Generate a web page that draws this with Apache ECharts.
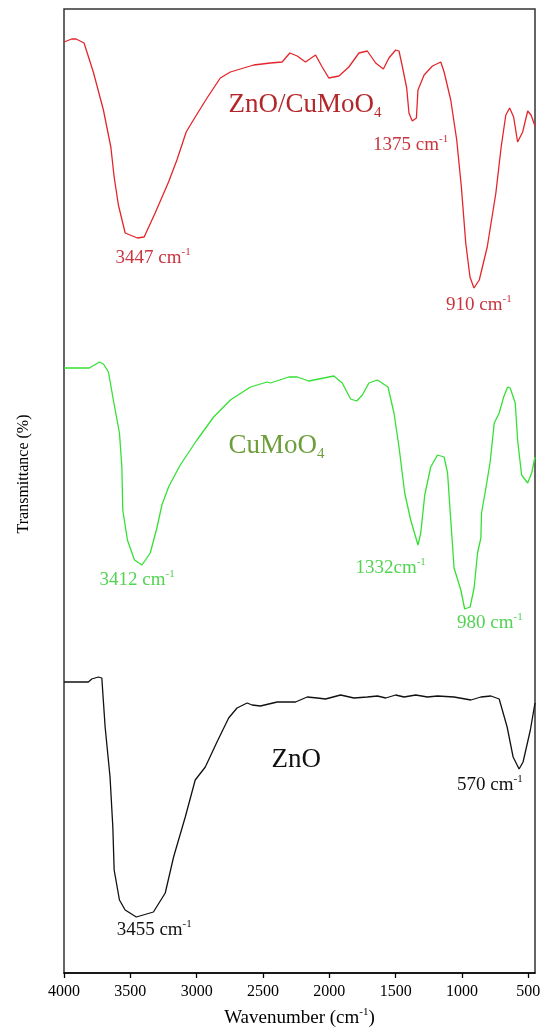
<!DOCTYPE html>
<html>
<head>
<meta charset="utf-8">
<script src="https://cdn.jsdelivr.net/npm/echarts@6/dist/echarts.min.js"></script>
<style>
  html, body { margin: 0; padding: 0; background: #fff; width: 540px; height: 1030px; overflow: hidden; }
  #chart { width: 540px; height: 1030px; }
</style>
</head>
<body>
<div id="chart"></div>
<script>
// FTIR spectra: [wavenumber (cm-1), transmittance (a.u., stacked)]
const wavenumberTicks = [4000, 3500, 3000, 2500, 2000, 1500, 1000, 500];

const znoCuMoO4 = [
  [4000, 93.1], [3942, 93.4], [3909, 93.4], [3849, 93.0], [3779, 90.1], [3703, 86.3],
  [3647, 82.6], [3622, 79.6], [3590, 76.8], [3539, 74.0], [3447, 73.5], [3396, 73.6],
  [3313, 76.0], [3212, 79.1], [3149, 81.3], [3079, 84.1], [3011, 85.6], [2922, 87.5],
  [2822, 89.5], [2746, 90.1], [2570, 90.8], [2444, 91.0], [2356, 91.1], [2298, 92.0],
  [2242, 91.7], [2180, 91.1], [2104, 91.8], [2054, 90.6], [2004, 89.5], [1928, 89.7],
  [1853, 90.6], [1777, 92.0], [1714, 92.2], [1651, 91.0], [1593, 90.4], [1551, 91.5],
  [1500, 92.3], [1475, 92.2], [1449, 90.6], [1417, 88.5], [1400, 86.0], [1375, 85.2],
  [1344, 85.5], [1332, 88.3], [1286, 89.8], [1223, 90.7], [1160, 91.1], [1135, 90.1],
  [1085, 87.3], [1040, 83.3], [1005, 78.6], [972, 73.0], [940, 69.6], [910, 68.5],
  [870, 69.3], [810, 72.6], [745, 78.0], [705, 82.6], [670, 85.8], [641, 86.5],
  [611, 85.6], [581, 83.1], [543, 84.1], [505, 86.2], [480, 85.8], [450, 84.7]
];

const cuMoO4 = [
  [4000, 60.5], [3809, 60.5], [3733, 61.1], [3703, 60.9], [3665, 60.1], [3628, 57.3],
  [3582, 54.0], [3564, 50.6], [3557, 46.3], [3522, 43.3], [3469, 41.3], [3412, 40.8],
  [3350, 42.0], [3300, 44.5], [3262, 46.8], [3212, 48.6], [3124, 50.8], [2998, 53.3],
  [2872, 55.6], [2746, 57.3], [2595, 58.6], [2469, 59.1], [2444, 59.0], [2306, 59.6],
  [2242, 59.6], [2155, 59.2], [2042, 59.5], [1966, 59.7], [1903, 59.0], [1840, 57.4],
  [1794, 57.2], [1751, 57.8], [1702, 59.0], [1638, 59.3], [1558, 58.6], [1513, 56.0],
  [1475, 52.6], [1432, 48.0], [1387, 45.3], [1332, 42.8], [1311, 44.0], [1281, 47.8],
  [1236, 50.6], [1185, 51.8], [1135, 51.6], [1109, 50.0], [1085, 45.3], [1060, 40.5],
  [1009, 38.3], [980, 36.4], [939, 36.6], [909, 38.5], [883, 42.0], [858, 43.5],
  [853, 46.0], [820, 48.5], [788, 51.1], [757, 55.0], [720, 56.0], [686, 57.6],
  [656, 58.6], [637, 58.5], [599, 57.0], [581, 53.3], [551, 49.8], [505, 49.0],
  [475, 50.0], [450, 51.6]
];

const zno = [
  [4000, 29.1], [3816, 29.1], [3791, 29.4], [3741, 29.6], [3715, 29.5], [3690, 24.6],
  [3653, 19.6], [3632, 14.6], [3622, 10.3], [3582, 7.3], [3539, 6.3], [3455, 5.6],
  [3326, 6.1], [3237, 8.0], [3174, 11.6], [3086, 15.6], [3011, 19.3], [2935, 20.6],
  [2847, 23.1], [2759, 25.5], [2696, 26.5], [2620, 27.0], [2582, 26.8], [2520, 26.7],
  [2393, 27.1], [2255, 27.1], [2167, 27.6], [2091, 27.5], [2029, 27.4], [1915, 27.8],
  [1815, 27.5], [1714, 27.6], [1638, 27.7], [1575, 27.5], [1500, 27.8], [1437, 27.6],
  [1349, 27.8], [1261, 27.6], [1185, 27.7], [1060, 27.6], [933, 27.3], [858, 27.6],
  [782, 27.7], [720, 27.4], [660, 24.6], [615, 21.6], [570, 20.4], [540, 21.1],
  [485, 24.3], [450, 27.0]
];

// Sample names and peak annotations, anchored in data coordinates
const sampleNames = [
  { name: 'ZnO/CuMoO', sub: '4', at: [2761, 86.8], tone: 'red' },
  { name: 'CuMoO', sub: '4', at: [2761, 52.7], tone: 'green' },
  { name: 'ZnO', sub: '', at: [2436, 21.3], tone: 'black' }
];

const peakNotes = [
  { text: '3447 cm', at: [3328, 71.5], tone: 'red' },
  { text: '1375 cm', at: [1387, 82.8], tone: 'red' },
  { text: '910 cm', at: [873, 66.8], tone: 'red' },
  { text: '3412 cm', at: [3449, 39.3], tone: 'green' },
  { text: '1332cm', at: [1538, 40.5], tone: 'green' },
  { text: '980 cm', at: [790, 35.0], tone: 'green' },
  { text: '3455 cm', at: [3320, 4.3], tone: 'black' },
  { text: '570 cm', at: [790, 18.8], tone: 'black' }
];

const SERIF = 'Liberation Serif';
const lineColors = { red: '#e3262b', green: '#35e035', black: '#111111' };
const nameColors = { red: '#b3272b', green: '#6c9e3a', black: '#111111' };
const noteColors = { red: '#c9343f', green: '#52d452', black: '#111111' };

const chart = echarts.init(document.getElementById('chart'), null, {
  renderer: 'canvas', width: 540, height: 1030
});

function spectrum(name, data, tone) {
  return {
    name: name,
    type: 'line',
    data: data,
    showSymbol: false,
    symbol: 'none',
    smooth: false,
    lineStyle: { color: lineColors[tone], width: 1.3 },
    z: 3
  };
}

chart.setOption({
  animation: false,
  backgroundColor: '#ffffff',
  grid: {
    left: 64, right: 5, top: 9, bottom: 57,
    containLabel: false,
    outerBoundsMode: 'none',
    show: true, borderColor: '#333', borderWidth: 1.5, backgroundColor: 'transparent'
  },
  xAxis: {
    type: 'value',
    inverse: true,
    min: 450,
    max: 4000,
    splitLine: { show: false },
    axisLine: { show: true, onZero: false, lineStyle: { color: '#000', width: 1.5 } },
    axisTick: {
      show: true, inside: false, length: 5,
      customValues: wavenumberTicks,
      lineStyle: { color: '#000', width: 1.3 }
    },
    axisLabel: {
      customValues: wavenumberTicks,
      showMinLabel: true,
      showMaxLabel: true,
      hideOverlap: false,
      formatter: function (v) { return String(v); },
      fontFamily: SERIF, fontSize: 16, color: '#000', margin: 11
    },
    name: '{a|Wavenumber (cm}{s|-1}{a|)}',
    nameLocation: 'middle',
    nameGap: 34,
    nameTextStyle: {
      rich: {
        a: { fontFamily: SERIF, fontSize: 19, color: '#000', lineHeight: 22 },
        s: { fontFamily: SERIF, fontSize: 11, color: '#000', lineHeight: 11, verticalAlign: 'top' }
      }
    }
  },
  yAxis: {
    type: 'value',
    min: 0,
    max: 96.4,
    show: false
  },
  series: [
    spectrum('ZnO/CuMoO4', znoCuMoO4, 'red'),
    spectrum('CuMoO4', cuMoO4, 'green'),
    spectrum('ZnO', zno, 'black')
  ]
});

function textAt(at) {
  return chart.convertToPixel({ gridIndex: 0 }, at);
}

const graphics = [];

sampleNames.forEach(function (s) {
  const p = textAt(s.at);
  const c = nameColors[s.tone];
  graphics.push({
    type: 'text',
    x: p[0], y: p[1],
    z: 10,
    style: {
      text: '{m|' + s.name + '}' + (s.sub ? '{b|' + s.sub + '}' : ''),
      align: 'left',
      verticalAlign: 'middle',
      rich: {
        m: { fontFamily: SERIF, fontSize: 27, fill: c, lineHeight: 32 },
        b: { fontFamily: SERIF, fontSize: 15, fill: c, lineHeight: 15, verticalAlign: 'bottom' }
      }
    }
  });
});

peakNotes.forEach(function (n) {
  const p = textAt(n.at);
  const c = noteColors[n.tone];
  graphics.push({
    type: 'text',
    x: p[0], y: p[1],
    z: 10,
    style: {
      text: '{m|' + n.text + '}{s|-1}',
      align: 'center',
      verticalAlign: 'middle',
      rich: {
        m: { fontFamily: SERIF, fontSize: 19, fill: c, lineHeight: 22 },
        s: { fontFamily: SERIF, fontSize: 11, fill: c, lineHeight: 12, verticalAlign: 'top' }
      }
    }
  });
});

// Vertical axis title
graphics.push({
  type: 'text',
  x: 24, y: 474,
  rotation: Math.PI / 2,
  z: 10,
  style: {
    text: 'Transmittance (%)',
    fontFamily: SERIF, fontSize: 16, fill: '#000',
    align: 'center', verticalAlign: 'middle'
  }
});

chart.setOption({ graphic: graphics });
</script>
</body>
</html>
